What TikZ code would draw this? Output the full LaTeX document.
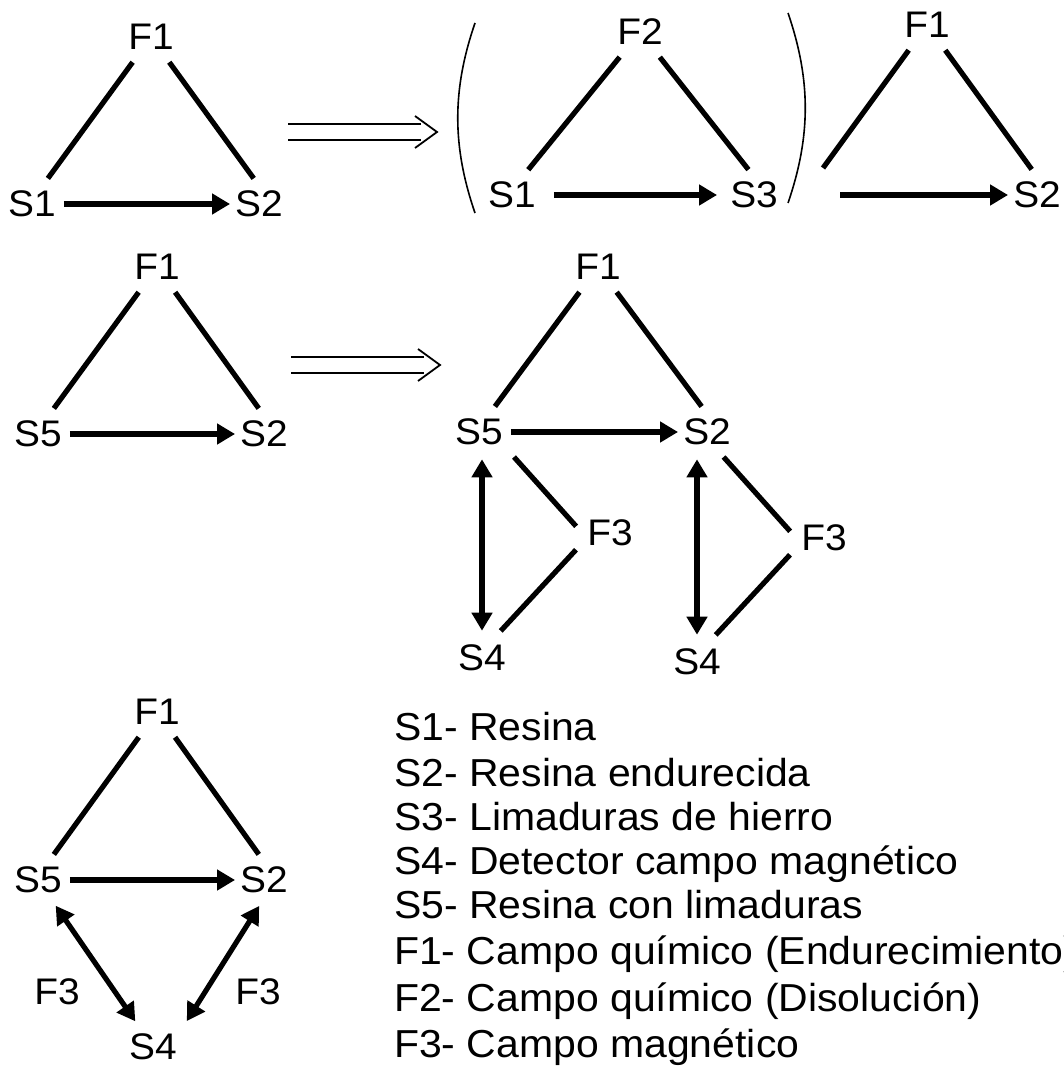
\documentclass[tikz,border=0pt]{standalone}
\usepackage{fontspec}
\setmainfont[FakeStretch=1.05]{Liberation Sans}
\usepackage{tikz}
\usetikzlibrary{arrows.meta}
\newcommand{\barwidth}{5.2pt}
\newcommand{\tipsize}{length=18pt,width=20pt}
\newcommand{\leadsarrow}[1]{%
\draw[thinline] (#1) ++(0,-8) -- ++(133,0) (#1) ++(0,8) -- ++(133,0);
\draw[thinline] (#1) ++(127,-16) -- ++(22,16) -- ++(-22,16);
}

\begin{document}
\begin{tikzpicture}[x=1pt,y=-1pt,
  lbl/.style={inner sep=5pt, font=\fontsize{37}{42}\selectfont},
  key/.style={anchor=base west, inner sep=0pt, font=\fontsize{39}{47}\selectfont},
  bar/.style={line width=\barwidth, shorten <=9pt, shorten >=9pt},
  flow/.style={line width=\barwidth, shorten <=3pt, -{Triangle[\tipsize]}},
  both/.style={line width=\barwidth, shorten <=9pt, shorten >=9pt, {Triangle[\tipsize]}-{Triangle[\tipsize]}},
  thinline/.style={line width=1.8pt},
  paren/.style={line width=1.6pt}]
\useasboundingbox (0,0) rectangle (1063,1067);
%S1 -> S2 with F1
\node[lbl] (f1a) at (151, 37) {F1};
\node[lbl] (s1a) at (32, 204) {S1};
\node[lbl] (s2a) at (259, 204) {S2};
\draw[bar] (f1a) -- (s1a.60);
\draw[bar] (f1a) -- (s2a.north);
\draw[flow] (s1a) -- (s2a);
\coordinate (ia) at (288, 132);
\leadsarrow{ia}
%( S1 -> S3 with F2 )
\node[lbl] (f2b) at (640, 32) {F2};
\node[lbl] (s1b) at (512, 195) {S1};
\node[lbl] (s3b) at (754, 195) {S3};
\draw[bar] (f2b) -- (s1b.60);
\draw[bar] (f2b) -- (s3b.north);
\draw[flow, shorten <=13pt, shorten >=8pt] (s1b) -- (s3b);
\draw[paren] (475, 23) .. controls (452, 90) and (452, 146) .. (475, 213);
\draw[paren] (788, 13) .. controls (811, 80) and (811, 136) .. (788, 203);
%-> S2 with F1
\node[lbl] (f1c) at (927, 25) {F1};
\node[lbl] (s2c) at (1037, 195) {S2};
\coordinate (c1) at (823, 168);
\coordinate (c2) at (840, 195);
\draw[bar, shorten >=0pt] (f1c) -- (c1);
\draw[bar] (f1c) -- (s2c.north);
\draw[flow, shorten <=0pt] (c2) -- (s2c);
%S5 -> S2 with F1
\node[lbl] (f1d) at (157, 267) {F1};
\node[lbl] (s5d) at (38, 434) {S5};
\node[lbl] (s2d) at (264, 434) {S2};
\draw[bar] (f1d) -- (s5d.60);
\draw[bar] (f1d) -- (s2d.north);
\draw[flow] (s5d) -- (s2d);
\coordinate (ib) at (291, 365);
\leadsarrow{ib}
%S5 -> S2 with F1, S4 and F3
\node[lbl] (f1e) at (598, 267) {F1};
\node[lbl] (s5e) at (479, 432) {S5};
\node[lbl] (s2e) at (707, 432) {S2};
\node[lbl] (f3e) at (610, 533) {F3};
\node[lbl] (s4e) at (482, 658) {S4};
\node[lbl] (f3f) at (824, 538) {F3};
\node[lbl] (s4f) at (697, 662) {S4};
\draw[bar] (f1e) -- (s5e.60);
\draw[bar] (f1e) -- (s2e.north);
\draw[flow] (s5e) -- (s2e);
\draw[both] (s4e |- s5e.south) -- (s4e);
\draw[bar] (s5e.south east) -- (f3e.west);
\draw[bar, shorten >=12pt] (f3e.200) -- (s4e.60);
\draw[both] (s4f |- s2e.south) -- (s4f);
\draw[bar] (s2e.300) -- (f3f.west);
\draw[bar, shorten >=12pt] (f3f.200) -- (s4f.60);
%S5 -> S2 with F1, F3 and S4
\node[lbl] (f1g) at (157, 712) {F1};
\node[lbl] (s5g) at (38, 880) {S5};
\node[lbl] (s2g) at (264, 880) {S2};
\node[lbl] (s4g) at (153, 1047) {S4};
\node[lbl] (f3g) at (57, 992) {F3};
\node[lbl] (f3h) at (258, 992) {F3};
\draw[bar] (f1g) -- (s5g.60);
\draw[bar] (f1g) -- (s2g.north);
\draw[flow] (s5g) -- (s2g);
\draw[both] (s5g) -- (s4g);
\draw[both] (s2g.south) -- (s4g.north east);
%legend
\node[key] (key1) at (394, 740) {S1- Resina};
\node[key] (key2) at (394, 786) {S2- Resina endurecida};
\node[key] (key3) at (394, 830) {S3- Limaduras de hierro};
\node[key] (key4) at (394, 874) {S4- Detector campo magnético};
\node[key] (key5) at (394, 918) {S5- Resina con limaduras};
\node[key] (key6) at (394, 964) {F1- Campo químico (Endurecimiento)};
\node[key] (key7) at (394, 1011) {F2- Campo químico (Disolución)};
\node[key] (key8) at (394, 1057) {F3- Campo magnético};
\end{tikzpicture}
\end{document}
